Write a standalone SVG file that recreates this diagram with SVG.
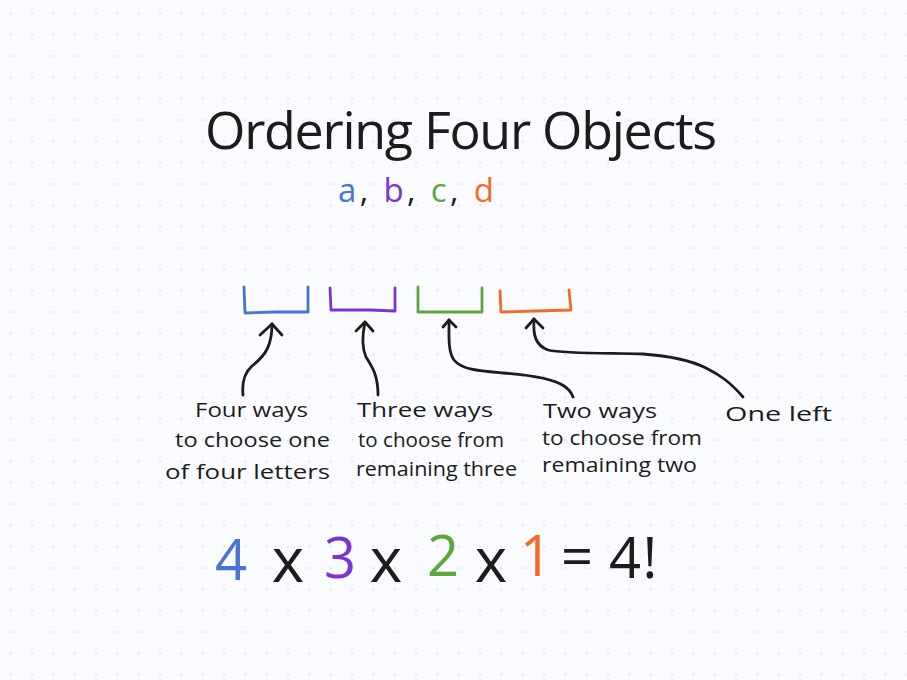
<svg xmlns="http://www.w3.org/2000/svg" width="907" height="680" viewBox="0 0 907 680">
<defs>
<pattern id="dots" patternUnits="userSpaceOnUse" x="0" y="2.667" width="21.333" height="21.333">
<rect x="10" y="10" width="1.4" height="1.4" fill="#c4c9dc"/>
</pattern>
<style>
.t{font-family:"Open Sans","DejaVu Sans",sans-serif;fill:#1c1c1c}
.lbl{font-size:20px}
.ink{fill:none;stroke:#1c1c1c;stroke-width:2.8;stroke-linecap:round;stroke-linejoin:round}
.br{fill:none;stroke-width:2.8;stroke-linecap:round;stroke-linejoin:round}
.blue{stroke:#4a74d4}
.purple{stroke:#7a36d0}
.green{stroke:#5ea63e}
.orange{stroke:#f36a28}
</style>
</defs>
<rect width="907" height="680" fill="#fafbfe"/>
<rect width="907" height="680" fill="url(#dots)"/>

<g id="title">
<text class="t" x="205" y="149" font-size="52" textLength="512" lengthAdjust="spacing">Ordering Four Objects</text>
</g>
<g id="letters">
<text class="t" x="338" y="202" font-size="33" textLength="156" lengthAdjust="spacing"><tspan fill="#4a74d4">a</tspan>, <tspan fill="#7a36d0">b</tspan>, <tspan fill="#5ea63e">c</tspan>, <tspan fill="#f36a28">d</tspan></text>
</g>

<g id="slot1"><path class="br blue" d="M244 287 L245 313 L276 312 L308 312 L308 287"/></g>
<g id="slot2"><path class="br purple" d="M330 288 L331 310 L370 310 L395 311 L395 288"/></g>
<g id="slot3"><path class="br green" d="M418 287 L418 312 L482 312 L482 288"/></g>
<g id="slot4"><path class="br orange" d="M500 291 L501 312 L535 311 L571 310 L569 290"/></g>

<g id="connectors">
<path class="ink" d="M260 335 L272 324 L282 335"/>
<path class="ink" d="M272 324 C272 345 266 355 252 366 C243 374 242 385 243 395"/>
<path class="ink" d="M356 331 L365 322 L373 331"/>
<path class="ink" d="M365 322 C362 336 362 348 366 357 C373 368 378 376 378 395"/>
<path class="ink" d="M443 327 L449 320 L456 327"/>
<path class="ink" d="M449 320 C449 337 448 352 454 360 C462 370 480 371 503 373 C530 375 552 378 564 386 C570 390 572 394 573 397"/>
<path class="ink" d="M526 328 L534 319 L543 328"/>
<path class="ink" d="M534 319 C533 335 535 345 548 350 C565 354 610 353 643 354 C670 356 692 361 706 368 C720 375 730 382 743 397"/>
</g>

<g id="label1">
<text class="t lbl" x="195" y="417" textLength="113" lengthAdjust="spacingAndGlyphs">Four ways</text>
<text class="t lbl" x="175" y="447" textLength="155" lengthAdjust="spacingAndGlyphs">to choose one</text>
<text class="t lbl" x="165" y="479" textLength="165" lengthAdjust="spacingAndGlyphs">of four letters</text>
</g>
<g id="label2">
<text class="t lbl" x="357" y="417" textLength="136" lengthAdjust="spacingAndGlyphs">Three ways</text>
<text class="t lbl" x="358" y="447" textLength="146" lengthAdjust="spacingAndGlyphs">to choose from</text>
<text class="t lbl" x="356" y="476" textLength="161" lengthAdjust="spacingAndGlyphs">remaining three</text>
</g>
<g id="label3">
<text class="t lbl" x="543" y="418" textLength="114" lengthAdjust="spacingAndGlyphs">Two ways</text>
<text class="t lbl" x="542" y="445" textLength="160" lengthAdjust="spacingAndGlyphs">to choose from</text>
<text class="t lbl" x="542" y="472" textLength="155" lengthAdjust="spacingAndGlyphs">remaining two</text>
</g>
<g id="label4">
<text class="t lbl" x="725" y="421" textLength="107" lengthAdjust="spacingAndGlyphs">One left</text>
</g>

<g id="equation">
<text class="t" font-size="56" text-anchor="middle"><tspan x="231" y="580" fill="#4a74d4">4</tspan><tspan x="288" y="582" font-size="62">x</tspan><tspan x="340" y="578" fill="#7a36d0">3</tspan><tspan x="386" y="582" font-size="62">x</tspan><tspan x="443" y="576" fill="#5ea63e">2</tspan><tspan x="491" y="582" font-size="62">x</tspan><tspan x="536" y="576" fill="#f36a28">1</tspan><tspan x="577" y="576">=</tspan><tspan x="625" y="578">4</tspan><tspan x="650" y="578">!</tspan></text>
</g>
</svg>
